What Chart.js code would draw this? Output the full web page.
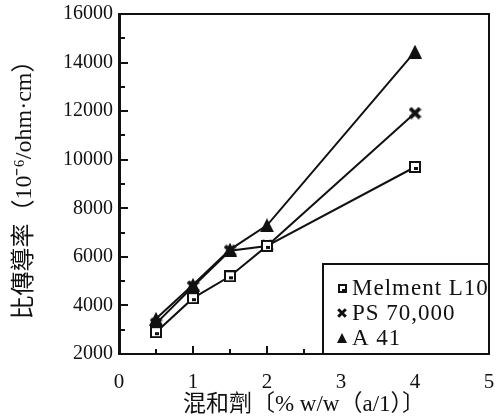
<!DOCTYPE html>
<html>
<head>
<meta charset="utf-8">
<script src="https://cdn.jsdelivr.net/npm/chart.js@4.4.1/dist/chart.umd.min.js"></script>
<style>
  html, body { margin: 0; padding: 0; background: #fff; }
  #wrap { width: 500px; height: 419px; }
</style>
</head>
<body>
<div id="wrap"><canvas id="c" width="500" height="419"></canvas></div>
<script>
// Additive loading (% w/w) and specific conductance for each additive
const loadings = [0.5, 1, 1.5, 2, 4];
const melmentL10 = [2900, 4300, 5200, 6450, 9700];
const ps70000 = [3250, 4780, 6250, 6450, 11920];
const a41 = [3450, 4850, 6300, 7300, 14450];
const seriesNames = ['Melment L10', 'PS 70,000', 'A 41'];

const yTicks = { min: 2000, max: 16000, major: 2000, minor: 1000 };
const xTicks = { min: 0, max: 5, major: 1, minor: 0.5 };

const SERIF = "'Liberation Serif', 'Noto Sans CJK TC', serif";
const INK = '#111';

// Marker glyphs drawn once onto small canvases
function makeMarker(kind, s) {
  const c = document.createElement('canvas');
  c.width = s; c.height = s;
  const g = c.getContext('2d');
  g.fillStyle = INK; g.strokeStyle = INK;
  if (kind === 'square') {
    g.fillRect(0, 0, s, s);
    g.fillStyle = '#fff';
    const b = Math.max(2, Math.round(s * 0.2));
    g.fillRect(b, b, s - 2 * b, s - 2 * b);
    g.fillStyle = INK;
    const d = Math.max(1, Math.round(s * 0.22));
    g.fillRect(Math.round(s / 2 - d / 2), Math.round(s / 2), d + 1, d);
  } else if (kind === 'cross') {
    g.lineWidth = Math.max(2, s * 0.3);
    g.lineCap = 'butt';
    const p = s * 0.12;
    g.beginPath();
    g.moveTo(p, p); g.lineTo(s - p, s - p);
    g.moveTo(s - p, p); g.lineTo(p, s - p);
    g.stroke();
  } else {
    g.beginPath();
    g.moveTo(s / 2, 0);
    g.lineTo(s, s);
    g.lineTo(0, s);
    g.closePath();
    g.fill();
  }
  return c;
}

const markers = {
  big: [makeMarker('square', 12), makeMarker('cross', 13), makeMarker('tri', 14)],
  small: [makeMarker('square', 9), makeMarker('cross', 10), makeMarker('tri', 10)]
};

function toPoints(vals) {
  return loadings.map((x, i) => ({ x: x, y: vals[i] }));
}

const seriesValues = [melmentL10, ps70000, a41];
const datasets = seriesValues.map((vals, i) => ({
  label: seriesNames[i],
  data: toPoints(vals),
  borderColor: INK,
  borderWidth: 2,
  pointStyle: markers.big[i],
  legendMarker: markers.small[i],
  pointRadius: 6,
  pointHoverRadius: 6,
  tension: 0,
  fill: false
}));

// Inward tick marks, frame and inset legend
const framePlugin = {
  id: 'frame',
  afterDraw(chart) {
    const ctx = chart.ctx;
    const a = chart.chartArea;
    const xs = chart.scales.x, ys = chart.scales.y;
    ctx.save();
    ctx.strokeStyle = INK;
    ctx.lineWidth = 2;
    ctx.strokeRect(a.left, a.top, a.right - a.left, a.bottom - a.top);

    ys.ticks.forEach(t => {
      const y = Math.round(ys.getPixelForValue(t.value));
      const major = t.value % yTicks.major === 0;
      const len = major ? 9 : 6;
      if (t.value === yTicks.min || t.value === yTicks.max) return;
      ctx.beginPath();
      ctx.moveTo(a.left, y);
      ctx.lineTo(a.left + len, y);
      ctx.stroke();
    });
    xs.ticks.forEach(t => {
      const x = Math.round(xs.getPixelForValue(t.value));
      const major = t.value % xTicks.major === 0;
      const len = major ? 8 : 5;
      if (t.value === xTicks.min || t.value === xTicks.max) return;
      ctx.beginPath();
      ctx.moveTo(x, a.bottom);
      ctx.lineTo(x, a.bottom - len);
      ctx.stroke();
    });

    // inset legend in the lower right corner
    const boxW = 166, boxH = 90;
    const bx = a.right - boxW, by = a.bottom - boxH;
    ctx.fillStyle = '#fff';
    ctx.fillRect(bx, by, boxW, boxH);
    ctx.strokeRect(bx, by, boxW, boxH);
    ctx.font = "23px " + SERIF;
    if ('letterSpacing' in ctx) ctx.letterSpacing = '1px';
    ctx.textBaseline = 'middle';
    ctx.textAlign = 'left';
    ctx.fillStyle = INK;
    chart.data.datasets.forEach((ds, i) => {
      const cy = by + 24 + i * 25;
      const m = ds.legendMarker;
      ctx.drawImage(m, Math.round(bx + 19 - m.width / 2), Math.round(cy - m.height / 2));
      ctx.fillText(ds.label, bx + 29, cy + 1);
    });
    ctx.restore();
  }
};

new Chart(document.getElementById('c'), {
  type: 'line',
  data: { datasets: datasets },
  options: {
    responsive: false,
    animation: false,
    events: [],
    layout: { padding: { top: 14, right: 11, bottom: 0, left: 0 } },
    plugins: {
      legend: { display: false },
      tooltip: { enabled: false }
    },
    scales: {
      x: {
        type: 'linear',
        min: xTicks.min,
        max: xTicks.max,
        grid: { display: false, drawTicks: false },
        border: { display: true, color: INK, width: 2 },
        ticks: {
          stepSize: xTicks.minor,
          autoSkip: false,
          maxRotation: 0,
          padding: 16,
          color: INK,
          font: { family: SERIF, size: 21 },
          callback: v => (v % xTicks.major === 0 ? String(v) : '')
        },
        title: {
          display: true,
          text: '混和劑〔% w/w（a/1）〕',
          color: INK,
          font: { family: SERIF, size: 23 },
          padding: { top: 0, bottom: 0 }
        },
        afterFit: s => { s.height = 65; s.paddingLeft = 0; s.paddingRight = 0; }
      },
      y: {
        type: 'linear',
        min: yTicks.min,
        max: yTicks.max,
        grid: { display: false, drawTicks: false },
        border: { display: true, color: INK, width: 3 },
        ticks: {
          stepSize: yTicks.minor,
          autoSkip: false,
          padding: 6,
          color: INK,
          font: { family: SERIF, size: 20 },
          callback: v => (v % yTicks.major === 0 ? String(v) : '')
        },
        title: {
          display: true,
          text: '比傳導率（10⁻⁶/ohm·cm）',
          color: INK,
          font: { family: SERIF, size: 24 },
          padding: { top: 10, bottom: 0 }
        },
        afterFit: s => { s.width = 119; s.paddingTop = 0; s.paddingBottom = 0; }
      }
    }
  },
  plugins: [framePlugin]
});
</script>
</body>
</html>
